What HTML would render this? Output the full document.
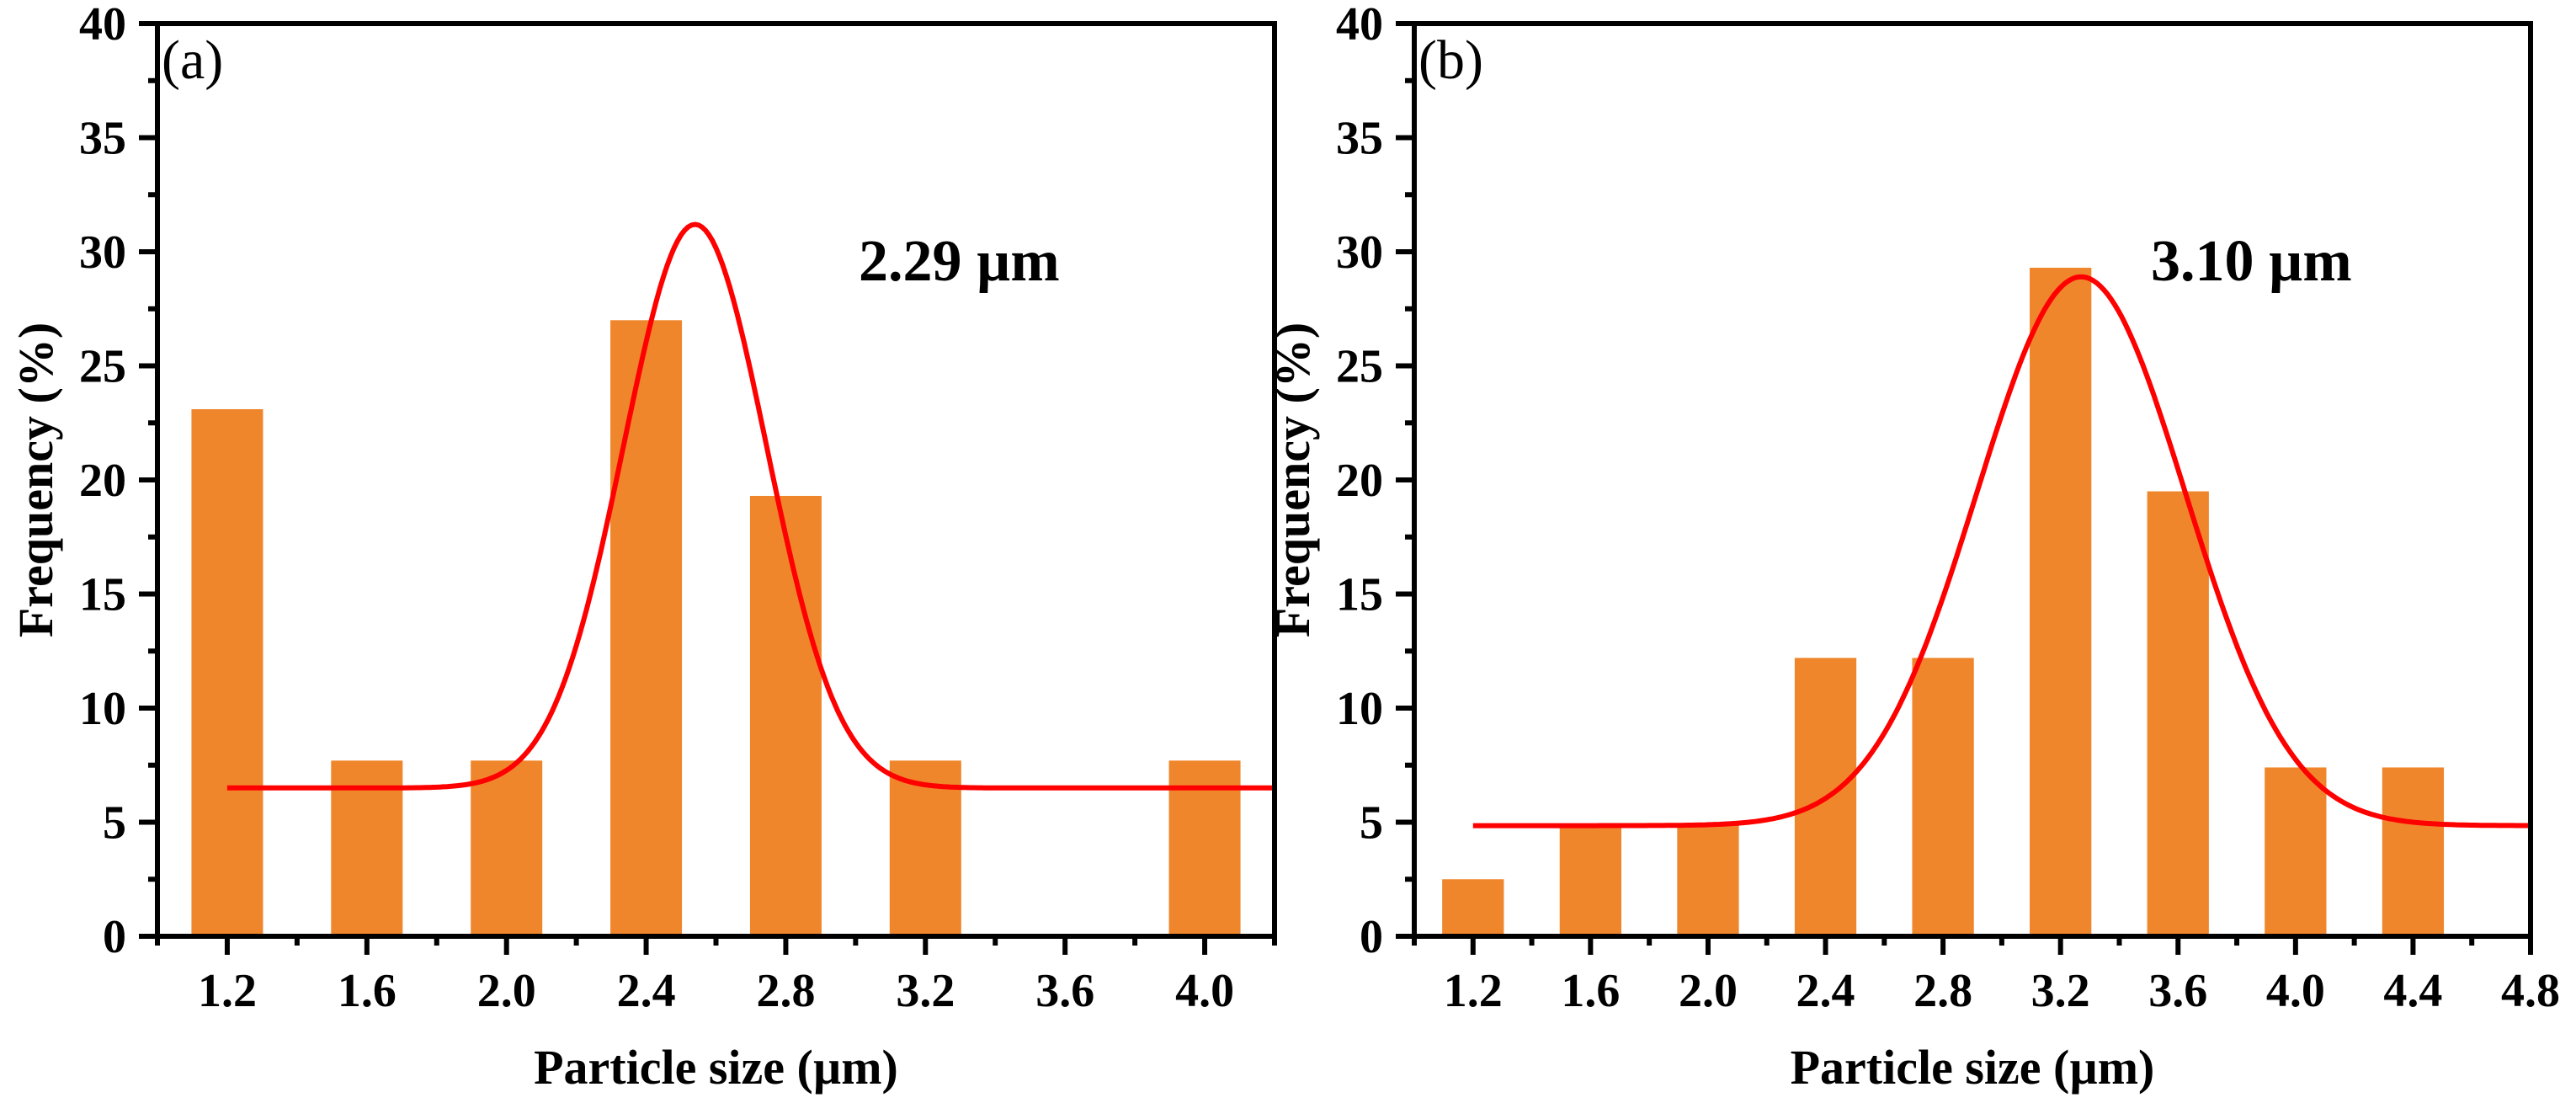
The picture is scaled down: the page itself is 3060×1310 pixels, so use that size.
<!DOCTYPE html>
<html><head><meta charset="utf-8"><style>
html,body{margin:0;padding:0;background:#fff;}
svg{display:block;}
text{font-family:"Liberation Serif","DejaVu Serif",serif;}
</style></head><body>
<svg id="chart" width="3060" height="1310" viewBox="0 0 3060 1310" xmlns="http://www.w3.org/2000/svg" font-family="Liberation Serif, serif">
</svg>
<script>
// Panel (a) data
const catsA = [1.2, 1.6, 2.0, 2.4, 2.8, 3.2, 4.0];
const valsA = [23.1, 7.7, 7.7, 27.0, 19.3, 7.7, 7.7];
const fitA = {y0: 6.5, peak: 31.2, xc: 2.54, sigma: 0.205, from: 1.2, to: 4.2};
const xTicksA = ["1.2","1.6","2.0","2.4","2.8","3.2","3.6","4.0"];
// Panel (b) data
const catsB = [1.2, 1.6, 2.0, 2.4, 2.8, 3.2, 3.6, 4.0, 4.4];
const valsB = [2.5, 4.9, 4.9, 12.2, 12.2, 29.3, 19.5, 7.4, 7.4];
const fitB = {y0: 4.85, peak: 28.9, xc: 3.27, sigma: 0.355, from: 1.2, to: 4.8};
const xTicksB = ["1.2","1.6","2.0","2.4","2.8","3.2","3.6","4.0","4.4","4.8"];
const yTicks = ["0","5","10","15","20","25","30","35","40"];

const svg = document.getElementById('chart');
const NS = 'http://www.w3.org/2000/svg';
const FF = '"Liberation Serif", "DejaVu Serif", serif';
function mk(tag, attrs, parent){const e=document.createElementNS(NS,tag);for(const k in attrs)e.setAttribute(k,attrs[k]);if(tag==='text'){e.setAttribute('font-family',FF);e.style.fontFamily=FF;}(parent||svg).appendChild(e);return e;}

function panel(cfg){
  const g = mk('g',{});
  
  
  const L=cfg.left,R=cfg.right,T=28,B=1112;
  const xs = v => L + (v-cfg.xmin)/(cfg.xmax-cfg.xmin)*(R-L);
  const ys = v => B - v/40*(B-T);
  cfg.cats.forEach((c,i)=>{
    const r = mk('rect',{x:xs(c-cfg.bw/2), y:ys(cfg.vals[i]), width:xs(c+cfg.bw/2)-xs(c-cfg.bw/2), height:B-ys(cfg.vals[i]), fill:'#f0862b'}, g);
    
    
  });
  const f=cfg.fit; let d='';
  for(let k=0;k<=300;k++){const x=f.from+(f.to-f.from)*k/300;const y=f.y0+(f.peak-f.y0)*Math.exp(-((x-f.xc)**2)/(2*f.sigma*f.sigma));d+=(k?'L':'M')+xs(x).toFixed(1)+','+ys(y).toFixed(1);}
  const p = mk('path',{d:d,fill:'none',stroke:'#ff0000','stroke-width':6}, g);
  
  
  const fr = mk('rect',{x:L,y:T,width:R-L,height:B-T,fill:'none',stroke:'#000','stroke-width':6}, g);
  
  
  for(let v=cfg.xmin; v<=cfg.xmax+1e-6; v+=0.2){
    const major = Math.abs(((v-1.2)/0.4)-Math.round((v-1.2)/0.4))<1e-6;
    mk('line',{x1:xs(v),x2:xs(v),y1:B,y2:B+(major?22:11),stroke:'#000','stroke-width':6}, g);
  }
  cfg.xt.forEach(t=>{
    const tx = mk('text',{x:xs(parseFloat(t)),y:1195,'text-anchor':'middle','font-size':56,'font-weight':'bold'}, g);
    tx.textContent=t;
    
    
  });
  for(let v=0; v<=40; v+=2.5){
    const major = v%5===0;
    mk('line',{x1:L,x2:L-(major?22:11),y1:ys(v),y2:ys(v),stroke:'#000','stroke-width':6}, g);
  }
  yTicks.forEach(t=>{
    const tx = mk('text',{x:L-37,y:ys(parseFloat(t))+19,'text-anchor':'end','font-size':56,'font-weight':'bold'}, g);
    tx.textContent=t;
    
    
  });
  const xt = mk('text',{x:(L+R)/2,y:1287,'text-anchor':'middle','font-size':58,'font-weight':'bold'}, g);
  xt.textContent='Particle size (\u00b5m)';
  
  
  const yt = mk('text',{x:0,y:0,'text-anchor':'middle','font-size':58,'font-weight':'bold',transform:'translate('+(L-125)+','+((T+B)/2)+') rotate(-90)'}, g);
  yt.textContent='Frequency (%)';
  
  
  const pl = mk('text',{x:L+5,y:93,'font-size':66}, g);
  pl.textContent=cfg.label;
  
  
  const an = mk('text',{x:cfg.annX,y:333,'font-size':70,'font-weight':'bold'}, g);
  an.textContent=cfg.ann;
  
  
}
panel({name:'panel-a',left:187,right:1514,xmin:1.0,xmax:4.2,bw:0.205,cats:catsA,vals:valsA,fit:fitA,xt:xTicksA,label:'(a)',ann:'2.29 \u00b5m',annX:1020});
panel({name:'panel-b',left:1680,right:3006,xmin:1.0,xmax:4.8,bw:0.21,cats:catsB,vals:valsB,fit:fitB,xt:xTicksB,label:'(b)',ann:'3.10 \u00b5m',annX:2555});
</script>
</body></html>
